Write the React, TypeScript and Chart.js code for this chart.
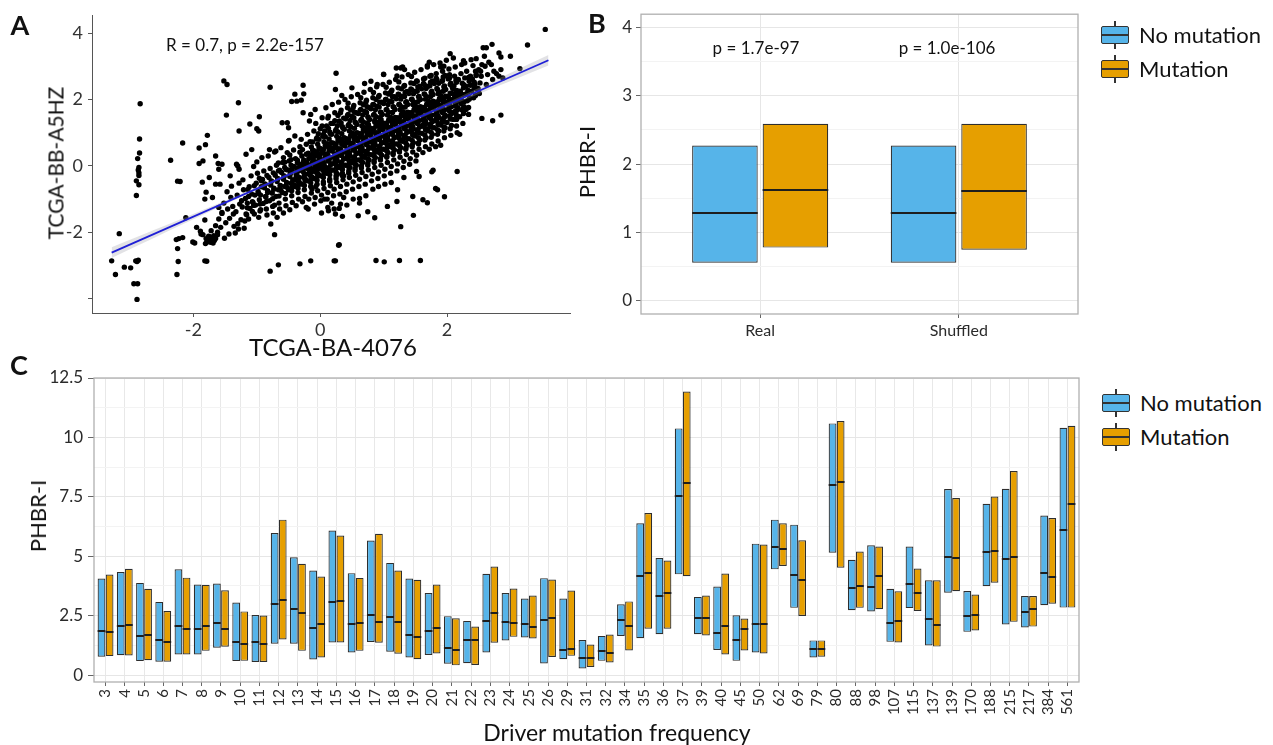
import React, { useEffect, useRef } from 'react';
import { Chart, registerables } from 'chart.js';
Chart.register(...registerables);

const FONT = 'Lato, "Open Sans", sans-serif';
const BLUE = '#56B4E9';
const ORANGE = '#E69F00';
const EDGE = '#2e2e2e';
const TICK_TEXT = '#2a2a2a';

// ---------------- Panel A data ----------------
const scatterOutliers: [number, number][] = [
  [-2.84, 1.87], [-2.85, 0.81], [-2.85, 0.39], [-2.88, 0.22], [-2.86, -0.05], [-2.87, -0.12], [-2.86, -0.21], [-2.86, -0.29], [-2.9, -0.45], [-2.86, -0.57], [-2.9, -0.89],
  [-2.91, -2.86], [-2.87, -2.84], [-2.89, -2.88], [-2.94, -3.55], [-2.88, -3.55], [-2.89, -4.02],
  [-3.29, -2.86], [-3.23, -3.27], [-3.17, -2.04], [-3.09, -3.05], [-2.99, -3.07],
  [-2.36, 0.17], [-2.17, 0.69], [-2.25, -0.46], [-2.21, -0.47], [-2.27, -2.22], [-2.23, -2.19], [-2.17, -2.16], [-2.25, -2.49], [-2.26, -3.27], [-2.24, -2.88], [-2.01, -2.29], [-2.12, -1.56],
  [-1.91, 0.54], [-1.81, 0.64], [-1.78, 0.92], [-1.91, 0.07], [-1.85, 0.15], [-1.86, -0.49], [-1.8, -0.79], [-1.82, -1.0], [-1.82, -1.63], [-1.89, -1.97], [-1.85, -2.07], [-1.8, -2.19],
  [-1.75, -2.13], [-1.7, -2.19], [-1.65, -2.19], [-1.62, -2.07], [-1.82, -2.86], [-1.69, -2.32], [-1.81, -2.34], [-1.74, -2.2], [-1.68, -2.1],
  [-1.95, -1.85], [-1.88, -2.05], [-1.79, -2.3], [-1.76, -2.12], [-1.73, -2.3], [-1.67, -2.25], [-1.72, -1.95], [-1.65, -1.8], [-1.6, -1.6], [-1.57, -1.85], [-1.62, -2.0],
  [-1.55, -1.4], [-1.6, -1.25], [-1.7, -0.95], [-1.65, -0.55], [-1.75, -0.35], [-1.6, -0.1], [-1.55, 0.05], [-1.65, 0.3], [-1.79, -2.87], [-1.98, -2.32],
  [-1.52, 2.56], [-1.47, 2.45], [-0.79, 2.37], [-0.27, 2.43], [-1.29, 1.9], [-1.48, 1.53], [-1.28, 1.05], [-0.96, 1.48], [-1.11, 1.26], [-1.0, 1.12], [-0.97, 1.05],
  [-0.45, 1.94], [-0.4, 2.16], [-0.52, 1.3], [-0.5, 1.15], [-0.49, 0.77], [-1.08, 0.49], [-0.8, 0.49], [-0.7, 0.45], [-1.61, 0.07], [-1.3, 0.0], [-1.28, -0.1],
  [-0.26, 2.17], [-0.3, 1.98], [-0.08, 1.7], [-0.15, 1.55], [-0.72, -2.07], [-0.66, -2.98], [-0.79, -3.17], [-0.32, -2.95], [-0.15, -2.86], [0.24, -2.86], [0.3, -2.37],
  [3.55, 4.11], [3.27, 3.64], [3.15, 2.93], [3.0, 3.3], [2.82, 3.4], [2.85, 3.28], [2.71, 3.66], [2.57, 3.56], [2.62, 3.56], [2.59, 3.3], [2.46, 3.23], [2.26, 3.17],
  [2.05, 3.38], [1.9, 2.98], [1.95, 3.0], [1.69, 3.02], [1.27, 2.95], [1.33, 2.9], [1.0, 2.76], [1.21, 2.71], [0.25, 2.79], [2.85, 1.53], [2.72, 1.36], [2.55, 1.43],
  [2.3, 1.7], [2.15, 1.4], [2.16, -0.17], [1.78, -0.13], [1.52, -0.17], [1.96, -0.93], [1.85, -0.72], [1.69, -1.11], [1.47, -1.49], [1.27, -1.83],
  [1.58, -2.85], [1.25, -2.85], [1.01, -2.89], [0.88, -2.85], [0.29, -2.39], [0.22, -2.86],
  [1.21, -1.07], [1.06, -1.22], [0.62, -1.12], [0.75, -1.38], [0.86, -1.56], [0.6, -1.5], [0.07, -1.0], [0.13, -1.35], [0.18, -1.12], [0.24, -1.45], [0.3, -1.28], [0.35, -1.52], [0.37, -0.95],
];
const scatterCloudA: [number, number][] = [
  [-1.52, -1.12], [-1.47, -0.78], [-1.55, -1.43], [-1.49, -1.71], [-1.44, -2.05], [-1.58, -0.55], [-1.51, -2.18], [-1.46, -1.3],
  [-1.41, -0.95], [-1.38, -1.22], [-1.43, -1.58], [-1.36, -1.82], [-1.4, -0.61], [-1.34, -2.02], [-1.42, -0.3], [-1.37, -1.45],
  [-1.31, -0.88], [-1.27, -1.15], [-1.33, -1.38], [-1.25, -1.62], [-1.29, -1.9], [-1.28, -0.52], [-1.32, 0.05], [-1.24, -1.05], [-1.3, -1.74],
  [-1.21, -0.72], [-1.18, -0.98], [-1.23, -1.24], [-1.16, -1.47], [-1.19, -1.66], [-1.22, -0.42], [-1.15, -1.12], [-1.17, 0.35], [-1.2, -1.88],
  [-1.12, -0.63], [-1.08, -0.85], [-1.06, -1.1], [-1.11, -1.28], [-1.04, -1.45], [-1.09, -0.3], [-1.05, -0.02], [-1.13, -1.6], [-1.07, -1.08],
  [-1.01, -0.52], [-0.98, -0.77], [-0.96, -1.02], [-1.02, -1.18], [-0.95, -1.36], [-0.99, -0.22], [-0.94, -0.88], [-1.0, 0.12], [-0.97, -1.55], [-0.93, -0.45],
  [-0.91, -0.41], [-0.88, -0.66], [-0.86, -0.92], [-0.9, -1.13], [-0.85, -1.3], [-0.89, -0.15], [-0.87, -0.55], [-0.84, -1.48], [-0.92, 0.25], [-0.83, -0.8],
  [-0.81, -0.35], [-0.78, -0.58], [-0.76, -0.82], [-0.8, -1.05], [-0.75, -1.22], [-0.79, -0.08], [-0.77, -0.45], [-0.74, -1.42], [-0.82, 0.3], [-0.73, -0.7], [-0.78, -1.75],
  [-0.71, -0.28], [-0.68, -0.47], [-0.66, -0.72], [-0.7, -0.92], [-0.65, -1.12], [-0.69, 0.02], [-0.67, -0.38], [-0.64, -1.3], [-0.72, 0.42], [-0.63, -0.6], [-0.66, -0.15], [-0.68, -1.55],
  [-0.61, -0.2], [-0.58, -0.4], [-0.56, -0.62], [-0.6, -0.8], [-0.55, -1.0], [-0.59, 0.1], [-0.57, -0.3], [-0.54, -1.2], [-0.62, 0.55], [-0.53, -0.5], [-0.56, -0.05], [-0.58, -1.42], [-0.6, 1.3],
  [-0.51, -0.12], [-0.48, -0.32], [-0.46, -0.52], [-0.5, -0.72], [-0.45, -0.9], [-0.49, 0.15], [-0.47, -0.22], [-0.44, -1.1], [-0.52, 0.4], [-0.43, -0.42], [-0.46, 0.02], [-0.48, -1.32], [-0.5, 0.75], [-0.44, -0.62],
  [-0.41, -0.02], [-0.38, -0.25], [-0.36, -0.45], [-0.4, -0.62], [-0.35, -0.8], [-0.39, 0.22], [-0.37, -0.12], [-0.34, -1.0], [-0.42, 0.48], [-0.33, -0.35], [-0.36, 0.1], [-0.38, -1.2], [-0.4, 0.9], [-0.34, -0.55], [-0.37, 1.95],
  [-0.31, 0.05], [-0.28, -0.15], [-0.26, -0.35], [-0.3, -0.55], [-0.25, -0.72], [-0.29, 0.3], [-0.27, -0.05], [-0.24, -0.92], [-0.32, 0.58], [-0.23, -0.25], [-0.26, 0.18], [-0.28, -1.08], [-0.3, 0.8], [-0.24, -0.45], [-0.27, 1.6], [-0.22, -1.25],
  [-0.21, 0.12], [-0.18, -0.08], [-0.16, -0.28], [-0.2, -0.45], [-0.15, -0.62], [-0.19, 0.38], [-0.17, 0.02], [-0.14, -0.82], [-0.22, 0.65], [-0.13, -0.18], [-0.16, 0.25], [-0.18, -1.0], [-0.2, 0.95], [-0.14, -0.38], [-0.17, 1.35], [-0.12, 0.48], [-0.19, -1.3],
  [-0.11, 0.2], [-0.08, 0.0], [-0.06, -0.2], [-0.1, -0.38], [-0.05, -0.55], [-0.09, 0.45], [-0.07, 0.1], [-0.04, -0.75], [-0.12, 0.72], [-0.03, -0.1], [-0.06, 0.32], [-0.08, -0.95], [-0.1, 1.05], [-0.04, -0.3], [-0.07, 1.28], [-0.02, 0.55], [-0.09, -1.15], [-0.05, 0.85],
  [-0.01, 0.28], [0.02, 0.08], [0.04, -0.12], [0.0, -0.3], [0.05, -0.48], [0.01, 0.52], [0.03, 0.18], [0.06, -0.68], [-0.02, 0.8], [0.07, -0.02], [0.04, 0.4], [0.02, -0.88], [0.0, 1.12], [0.06, -0.22], [0.03, 1.45], [0.08, 0.62], [0.01, -1.05], [0.05, 0.95], [0.02, -1.42],
  [0.09, 0.36], [0.12, 0.15], [0.14, -0.05], [0.1, -0.22], [0.15, -0.4], [0.11, 0.6], [0.13, 0.26], [0.16, -0.6], [0.08, 0.88], [0.17, 0.05], [0.14, 0.48], [0.12, -0.8], [0.1, 1.2], [0.16, -0.15], [0.13, 1.5], [0.18, 0.7], [0.11, -1.0], [0.15, 1.02], [0.12, -1.25], [0.09, 1.75],
  [0.19, 0.45], [0.22, 0.25], [0.24, 0.05], [0.2, -0.12], [0.25, -0.3], [0.21, 0.68], [0.23, 0.35], [0.26, -0.5], [0.18, 0.95], [0.27, 0.15], [0.24, 0.58], [0.22, -0.7], [0.2, 1.28], [0.26, -0.05], [0.23, 1.6], [0.28, 0.78], [0.21, -0.9], [0.25, 1.1], [0.22, -1.3], [0.19, 1.85], [0.24, 2.3], [0.27, -0.25],
  [0.29, 0.52], [0.32, 0.32], [0.34, 0.12], [0.3, -0.05], [0.35, -0.22], [0.31, 0.75], [0.33, 0.42], [0.36, -0.42], [0.28, 1.02], [0.37, 0.22], [0.34, 0.65], [0.32, -0.62], [0.3, 1.35], [0.36, 0.02], [0.33, 1.68], [0.38, 0.85], [0.31, -0.85], [0.35, 1.18], [0.32, -1.15], [0.29, 1.92], [0.37, -0.3], [0.34, 2.12],
  [0.39, 0.6], [0.42, 0.4], [0.44, 0.2], [0.4, 0.02], [0.45, -0.15], [0.41, 0.82], [0.43, 0.5], [0.46, -0.35], [0.38, 1.1], [0.47, 0.3], [0.44, 0.72], [0.42, -0.55], [0.4, 1.42], [0.46, 0.1], [0.43, 1.75], [0.48, 0.92], [0.41, -0.78], [0.45, 1.25], [0.42, -1.18], [0.39, 2.0], [0.47, -0.05], [0.44, 1.55],
  [0.49, 0.68], [0.52, 0.48], [0.54, 0.28], [0.5, 0.1], [0.55, -0.08], [0.51, 0.9], [0.53, 0.58], [0.56, -0.28], [0.48, 1.18], [0.57, 0.38], [0.54, 0.8], [0.52, -0.48], [0.5, 1.5], [0.56, 0.18], [0.53, 1.82], [0.58, 1.0], [0.51, -0.7], [0.55, 1.32], [0.52, -1.0], [0.49, 2.08], [0.57, 0.02], [0.54, 1.62], [0.5, 2.35],
  [0.59, 0.76], [0.62, 0.56], [0.64, 0.36], [0.6, 0.18], [0.65, 0.0], [0.61, 0.98], [0.63, 0.66], [0.66, -0.2], [0.58, 1.25], [0.67, 0.46], [0.64, 0.88], [0.62, -0.4], [0.6, 1.58], [0.66, 0.26], [0.63, 1.9], [0.68, 1.08], [0.61, -0.62], [0.65, 1.4], [0.62, -0.98], [0.59, 2.15], [0.67, 0.1], [0.64, 1.7], [0.66, 1.2],
  [0.69, 0.85], [0.72, 0.65], [0.74, 0.45], [0.7, 0.26], [0.75, 0.08], [0.71, 1.05], [0.73, 0.75], [0.76, -0.12], [0.68, 1.32], [0.77, 0.55], [0.74, 0.95], [0.72, -0.32], [0.7, 1.65], [0.76, 0.35], [0.73, 1.98], [0.78, 1.15], [0.71, -0.55], [0.75, 1.48], [0.72, -0.9], [0.69, 2.22], [0.77, 0.18], [0.74, 1.78], [0.7, 2.48], [0.76, 1.25],
  [0.79, 0.92], [0.82, 0.72], [0.84, 0.52], [0.8, 0.34], [0.85, 0.15], [0.81, 1.12], [0.83, 0.82], [0.86, -0.05], [0.78, 1.4], [0.87, 0.62], [0.84, 1.02], [0.82, -0.25], [0.8, 1.72], [0.86, 0.42], [0.83, 2.05], [0.88, 1.22], [0.81, -0.45], [0.85, 1.55], [0.79, 2.3], [0.87, 0.25], [0.84, 1.85], [0.8, 2.55], [0.86, 1.32], [0.83, -0.7],
  [0.89, 1.0], [0.92, 0.8], [0.94, 0.6], [0.9, 0.42], [0.95, 0.22], [0.91, 1.2], [0.93, 0.9], [0.96, 0.02], [0.88, 1.48], [0.97, 0.7], [0.94, 1.1], [0.92, -0.18], [0.9, 1.8], [0.96, 0.5], [0.93, 2.12], [0.98, 1.3], [0.91, -0.38], [0.95, 1.62], [0.92, -0.62], [0.89, 2.38], [0.97, 0.32], [0.94, 1.92], [0.9, 2.45], [0.96, 1.4],
  [0.99, 1.08], [1.02, 0.88], [1.04, 0.68], [1.0, 0.5], [1.05, 0.3], [1.01, 1.28], [1.03, 0.98], [1.06, 0.1], [0.98, 1.55], [1.07, 0.78], [1.04, 1.18], [1.02, -0.1], [1.0, 1.88], [1.06, 0.58], [1.03, 2.2], [1.08, 1.38], [1.01, -0.3], [1.05, 1.7], [1.02, -0.55], [0.99, 2.45], [1.07, 0.4], [1.04, 2.0], [1.0, 2.75],
  [1.09, 1.16], [1.12, 0.96], [1.14, 0.76], [1.1, 0.58], [1.15, 0.38], [1.11, 1.36], [1.13, 1.06], [1.16, 0.18], [1.08, 1.62], [1.17, 0.86], [1.14, 1.26], [1.12, -0.02], [1.1, 1.95], [1.16, 0.66], [1.13, 2.28], [1.18, 1.46], [1.11, -0.22], [1.15, 1.78], [1.12, -0.5], [1.09, 2.52], [1.17, 0.48], [1.14, 2.08], [1.1, 2.2],
  [1.19, 1.25], [1.22, 1.05], [1.24, 0.85], [1.2, 0.66], [1.25, 0.46], [1.21, 1.45], [1.23, 1.15], [1.26, 0.26], [1.18, 1.7], [1.27, 0.95], [1.24, 1.35], [1.22, 0.06], [1.2, 2.02], [1.26, 0.75], [1.23, 2.35], [1.28, 1.55], [1.21, -0.15], [1.25, 1.85], [1.22, -0.72], [1.19, 2.6], [1.27, 0.55], [1.24, 2.15], [1.2, 2.95],
  [1.29, 1.33], [1.32, 1.13], [1.34, 0.93], [1.3, 0.74], [1.35, 0.54], [1.31, 1.52], [1.33, 1.23], [1.36, 0.34], [1.28, 1.78], [1.37, 1.03], [1.34, 1.43], [1.32, 0.14], [1.3, 2.1], [1.36, 0.83], [1.33, 2.42], [1.38, 1.62], [1.31, -0.05], [1.35, 1.92], [1.29, 2.68], [1.37, 0.62], [1.34, 2.22], [1.32, -0.35], [1.3, 2.98],
  [1.39, 1.41], [1.42, 1.21], [1.44, 1.01], [1.4, 0.82], [1.45, 0.62], [1.41, 1.6], [1.43, 1.31], [1.46, 0.42], [1.38, 1.85], [1.47, 1.11], [1.44, 1.51], [1.42, 0.22], [1.4, 2.18], [1.46, 0.92], [1.43, 2.5], [1.48, 1.7], [1.41, 0.05], [1.45, 2.0], [1.39, 2.75], [1.47, 0.7], [1.44, 2.3], [1.46, -0.92],
  [1.49, 1.5], [1.52, 1.3], [1.54, 1.1], [1.5, 0.9], [1.55, 0.7], [1.51, 1.68], [1.53, 1.4], [1.56, 0.5], [1.48, 1.92], [1.57, 1.2], [1.54, 1.6], [1.52, 0.32], [1.5, 2.25], [1.56, 1.0], [1.53, 2.55], [1.58, 1.78], [1.55, 2.08], [1.49, 2.82], [1.57, 0.78], [1.54, 2.38], [1.51, 0.15], [1.56, -0.32],
  [1.59, 1.58], [1.62, 1.38], [1.64, 1.18], [1.6, 0.98], [1.65, 0.78], [1.61, 1.76], [1.63, 1.48], [1.66, 0.58], [1.58, 2.0], [1.67, 1.28], [1.64, 1.68], [1.62, 0.4], [1.6, 2.32], [1.66, 1.08], [1.63, 2.62], [1.68, 1.86], [1.65, 2.15], [1.59, 2.9], [1.67, 0.85], [1.64, 2.45], [1.62, -1.02],
  [1.69, 1.66], [1.72, 1.46], [1.74, 1.26], [1.7, 1.06], [1.75, 0.86], [1.71, 1.85], [1.73, 1.56], [1.76, 0.66], [1.68, 2.08], [1.77, 1.36], [1.74, 1.76], [1.72, 0.5], [1.7, 2.4], [1.76, 1.16], [1.73, 2.7], [1.78, 1.95], [1.75, 2.22], [1.69, 2.98], [1.77, 0.95], [1.74, 2.52], [1.76, -0.18], [1.72, 3.12],
  [1.79, 1.75], [1.82, 1.55], [1.84, 1.35], [1.8, 1.15], [1.85, 0.95], [1.81, 1.92], [1.83, 1.65], [1.86, 0.75], [1.78, 2.15], [1.87, 1.45], [1.84, 1.85], [1.82, 0.58], [1.8, 2.48], [1.86, 1.25], [1.83, 2.78], [1.88, 2.02], [1.85, 2.3], [1.79, 3.05], [1.87, 1.05], [1.84, 2.6], [1.82, -0.68],
  [1.89, 1.83], [1.92, 1.63], [1.94, 1.43], [1.9, 1.23], [1.95, 1.05], [1.91, 2.0], [1.93, 1.73], [1.96, 0.85], [1.88, 2.22], [1.97, 1.53], [1.94, 1.93], [1.92, 2.55], [1.96, 1.33], [1.93, 2.85], [1.98, 2.1], [1.95, 2.38], [1.89, 3.1], [1.97, 1.15], [1.94, 2.68], [1.9, 0.62],
  [1.99, 1.91], [2.02, 1.71], [2.04, 1.51], [2.0, 1.31], [2.05, 1.12], [2.01, 2.08], [2.03, 1.81], [2.06, 0.92], [1.98, 2.3], [2.07, 1.61], [2.04, 2.0], [2.02, 2.62], [2.06, 1.41], [2.03, 2.92], [2.08, 2.18], [2.05, 2.45], [1.99, 3.18], [2.07, 1.22], [2.04, 2.75],
  [2.09, 2.0], [2.12, 1.8], [2.14, 1.6], [2.1, 1.4], [2.15, 1.2], [2.11, 2.16], [2.13, 1.9], [2.16, 1.0], [2.08, 2.38], [2.17, 1.7], [2.14, 2.08], [2.12, 2.7], [2.16, 1.5], [2.13, 2.98], [2.18, 2.25], [2.15, 2.52], [2.1, 3.25],
  [2.19, 2.08], [2.22, 1.88], [2.24, 1.68], [2.2, 1.48], [2.25, 1.28], [2.21, 2.25], [2.23, 1.98], [2.26, 2.45], [2.18, 2.6], [2.27, 1.78], [2.24, 2.15], [2.22, 2.78], [2.26, 1.58], [2.23, 3.05], [2.2, 0.95],
  [2.29, 2.16], [2.32, 1.96], [2.34, 1.76], [2.3, 2.4], [2.35, 2.55], [2.31, 2.85], [2.33, 2.28], [2.36, 2.05], [2.28, 3.1], [2.37, 2.7], [2.34, 1.55],
  [2.39, 2.25], [2.42, 2.05], [2.44, 2.45], [2.4, 2.62], [2.45, 2.85], [2.41, 3.02], [2.43, 2.35], [2.46, 2.72], [2.38, 3.2],
  [2.49, 2.33], [2.52, 2.5], [2.54, 2.7], [2.5, 2.9], [2.55, 3.05], [2.51, 2.18], [2.53, 2.85],
  [2.62, 2.45], [2.64, 2.75], [2.6, 3.0], [2.66, 3.12], [2.72, 2.6], [2.74, 2.85], [2.7, 3.05], [2.78, 2.78], [2.82, 2.7], [2.88, 2.65], [2.85, 2.9],
];
const scatterCloudB: [number, number][] = [
  [-1.15, -1.26], [-1.13, -0.92], [-1.17, -1.45], [-1.14, -0.71], [-1.05, -1.19], [-1.03, -0.88], [-1.07, -1.37], [-1.04, -0.6],
  [-0.95, -1.15], [-0.97, -0.83], [-0.93, -0.63], [-0.96, -0.37], [-0.94, -1.32], [-0.85, -1.07], [-0.83, -0.75], [-0.87, -0.55], [-0.84, -0.29], [-0.86, -0.93],
  [-0.75, -0.99], [-0.73, -0.67], [-0.77, -0.47], [-0.74, -0.21], [-0.76, -0.81], [-0.72, -1.18], [-0.65, -0.91], [-0.63, -0.59], [-0.67, -0.39], [-0.64, -0.13], [-0.66, 0.09], [-0.62, -0.73],
  [-0.55, -0.83], [-0.53, -0.51], [-0.57, -0.31], [-0.54, -0.11], [-0.56, 0.11], [-0.52, -0.65], [-0.58, 0.25],
  [-0.45, -0.75], [-0.43, -0.43], [-0.47, -0.23], [-0.44, -0.03], [-0.46, 0.19], [-0.42, -0.57], [-0.48, 0.33], [-0.45, -0.13],
  [-0.35, -0.67], [-0.33, -0.49], [-0.37, -0.25], [-0.34, -0.05], [-0.36, 0.17], [-0.32, 0.41], [-0.38, -0.35], [-0.35, -0.15],
  [-0.25, -0.59], [-0.23, -0.41], [-0.27, -0.17], [-0.24, 0.03], [-0.26, 0.14], [-0.22, 0.35], [-0.28, 0.49], [-0.25, -0.27], [-0.21, -0.07],
  [-0.15, -0.51], [-0.13, -0.33], [-0.17, -0.19], [-0.14, -0.09], [-0.16, 0.01], [-0.12, 0.11], [-0.18, 0.22], [-0.15, 0.33], [-0.11, 0.43], [-0.14, 0.57], [-0.16, 0.73], [-0.13, -0.7],
  [-0.05, -0.43], [-0.03, -0.25], [-0.07, -0.11], [-0.04, -0.01], [-0.06, 0.09], [-0.02, 0.19], [-0.08, 0.3], [-0.05, 0.41], [-0.01, 0.51], [-0.04, 0.65], [-0.06, 0.81], [-0.03, 0.97], [-0.07, -0.62],
  [0.05, -0.35], [0.07, -0.17], [0.03, -0.03], [0.06, 0.07], [0.04, 0.17], [0.08, 0.27], [0.02, 0.38], [0.05, 0.49], [0.09, 0.59], [0.06, 0.73], [0.04, 0.89], [0.07, 1.05], [0.03, 1.2], [0.05, -0.54],
  [0.15, -0.27], [0.13, -0.09], [0.17, 0.05], [0.14, 0.15], [0.16, 0.25], [0.12, 0.35], [0.18, 0.46], [0.15, 0.57], [0.11, 0.67], [0.14, 0.81], [0.16, 0.97], [0.13, 1.13], [0.17, 1.28], [0.15, -0.46], [0.12, 1.44],
  [0.25, -0.19], [0.27, -0.01], [0.23, 0.13], [0.26, 0.23], [0.24, 0.33], [0.28, 0.43], [0.22, 0.54], [0.25, 0.65], [0.29, 0.75], [0.26, 0.89], [0.24, 1.05], [0.27, 1.21], [0.23, 1.36], [0.25, -0.38], [0.28, 1.52],
  [0.35, -0.11], [0.33, 0.07], [0.37, 0.21], [0.34, 0.31], [0.36, 0.41], [0.32, 0.51], [0.38, 0.62], [0.35, 0.73], [0.31, 0.83], [0.34, 0.97], [0.36, 1.13], [0.33, 1.29], [0.37, 1.44], [0.35, -0.3], [0.32, 1.6],
  [0.45, -0.03], [0.47, 0.15], [0.43, 0.29], [0.46, 0.39], [0.44, 0.49], [0.48, 0.59], [0.42, 0.7], [0.45, 0.81], [0.49, 0.91], [0.46, 1.05], [0.44, 1.21], [0.47, 1.37], [0.43, 1.52], [0.45, -0.22], [0.48, 1.68], [0.44, 1.89],
  [0.55, 0.05], [0.53, 0.23], [0.57, 0.37], [0.54, 0.47], [0.56, 0.57], [0.52, 0.67], [0.58, 0.78], [0.55, 0.89], [0.51, 0.99], [0.54, 1.13], [0.56, 1.29], [0.53, 1.45], [0.57, 1.6], [0.55, -0.14], [0.52, 1.76],
  [0.65, 0.13], [0.67, 0.31], [0.63, 0.45], [0.66, 0.55], [0.64, 0.65], [0.68, 0.75], [0.62, 0.86], [0.65, 0.97], [0.69, 1.07], [0.66, 1.21], [0.64, 1.37], [0.67, 1.53], [0.63, 1.68], [0.65, -0.06], [0.68, 1.84], [0.64, 2.05],
  [0.75, 0.21], [0.73, 0.39], [0.77, 0.53], [0.74, 0.63], [0.76, 0.73], [0.72, 0.83], [0.78, 0.94], [0.75, 1.05], [0.71, 1.15], [0.74, 1.29], [0.76, 1.45], [0.73, 1.61], [0.77, 1.76], [0.75, 0.02], [0.72, 1.92],
  [0.85, 0.29], [0.87, 0.47], [0.83, 0.61], [0.86, 0.71], [0.84, 0.81], [0.88, 0.91], [0.82, 1.02], [0.85, 1.13], [0.89, 1.23], [0.86, 1.37], [0.84, 1.53], [0.87, 1.69], [0.83, 1.84], [0.85, 0.1], [0.88, 2.0], [0.84, 2.21],
  [0.95, 0.37], [0.93, 0.55], [0.97, 0.69], [0.94, 0.79], [0.96, 0.89], [0.92, 0.99], [0.98, 1.1], [0.95, 1.21], [0.91, 1.31], [0.94, 1.45], [0.96, 1.61], [0.93, 1.77], [0.97, 1.92], [0.95, 0.18], [0.92, 2.08],
  [1.05, 0.45], [1.07, 0.63], [1.03, 0.77], [1.06, 0.87], [1.04, 0.97], [1.08, 1.07], [1.02, 1.18], [1.05, 1.29], [1.09, 1.39], [1.06, 1.53], [1.04, 1.69], [1.07, 1.85], [1.03, 2.0], [1.05, 0.26], [1.08, 2.16], [1.04, 2.37],
  [1.15, 0.53], [1.13, 0.71], [1.17, 0.85], [1.14, 0.95], [1.16, 1.05], [1.12, 1.15], [1.18, 1.26], [1.15, 1.37], [1.11, 1.47], [1.14, 1.61], [1.16, 1.77], [1.13, 1.93], [1.17, 2.08], [1.15, 0.34], [1.12, 2.24],
  [1.25, 0.61], [1.27, 0.79], [1.23, 0.93], [1.26, 1.03], [1.24, 1.13], [1.28, 1.23], [1.22, 1.34], [1.25, 1.45], [1.29, 1.55], [1.26, 1.69], [1.24, 1.85], [1.27, 2.01], [1.23, 2.16], [1.25, 0.42], [1.28, 2.32], [1.24, 2.53],
  [1.35, 0.69], [1.33, 0.87], [1.37, 1.01], [1.34, 1.11], [1.36, 1.21], [1.32, 1.31], [1.38, 1.42], [1.35, 1.53], [1.31, 1.63], [1.34, 1.77], [1.36, 1.93], [1.33, 2.09], [1.37, 2.24], [1.35, 0.5], [1.32, 2.4],
  [1.45, 0.77], [1.47, 0.95], [1.43, 1.09], [1.46, 1.19], [1.44, 1.29], [1.48, 1.39], [1.42, 1.5], [1.45, 1.61], [1.49, 1.71], [1.46, 1.85], [1.44, 2.01], [1.47, 2.17], [1.43, 2.32], [1.45, 0.58], [1.48, 2.48], [1.44, 2.69],
  [1.55, 0.85], [1.53, 1.03], [1.57, 1.17], [1.54, 1.27], [1.56, 1.37], [1.52, 1.47], [1.58, 1.58], [1.55, 1.69], [1.51, 1.79], [1.54, 1.93], [1.56, 2.09], [1.53, 2.25], [1.57, 2.4], [1.55, 0.66], [1.52, 2.56],
  [1.65, 0.93], [1.67, 1.11], [1.63, 1.25], [1.66, 1.35], [1.64, 1.45], [1.68, 1.55], [1.62, 1.66], [1.65, 1.77], [1.69, 1.87], [1.66, 2.01], [1.64, 2.17], [1.67, 2.33], [1.63, 2.48], [1.65, 2.64],
  [1.75, 1.01], [1.73, 1.19], [1.77, 1.33], [1.74, 1.43], [1.76, 1.53], [1.72, 1.63], [1.78, 1.74], [1.75, 1.85], [1.71, 1.95], [1.74, 2.09], [1.76, 2.25], [1.73, 2.41], [1.77, 2.56], [1.75, 2.72],
  [1.85, 1.09], [1.87, 1.27], [1.83, 1.41], [1.86, 1.51], [1.84, 1.61], [1.88, 1.71], [1.82, 1.82], [1.85, 1.93], [1.89, 2.03], [1.86, 2.17], [1.84, 2.33], [1.87, 2.49], [1.83, 2.64],
  [1.95, 1.17], [1.93, 1.35], [1.97, 1.49], [1.94, 1.59], [1.96, 1.69], [1.92, 1.79], [1.98, 1.9], [1.95, 2.01], [1.91, 2.11], [1.94, 2.25], [1.96, 2.41], [1.93, 2.57], [1.97, 2.72],
  [2.05, 1.43], [2.07, 1.57], [2.03, 1.67], [2.06, 1.77], [2.04, 1.87], [2.08, 1.98], [2.02, 2.09], [2.05, 2.19], [2.09, 2.33], [2.06, 2.49], [2.04, 2.65],
  [2.15, 1.51], [2.13, 1.65], [2.17, 1.75], [2.14, 1.85], [2.16, 1.95], [2.12, 2.06], [2.18, 2.17], [2.15, 2.27], [2.11, 2.41], [2.14, 2.57],
  [2.25, 1.73], [2.27, 1.93], [2.23, 2.14], [2.26, 2.35], [2.24, 2.49], [2.28, 2.65],
  [2.35, 2.01], [2.33, 2.22], [2.37, 2.43], [2.34, 2.66], [2.45, 2.12], [2.47, 2.31], [2.43, 2.52], [2.46, 2.75],
];
const fitX = [-3.29, 3.6];
const fitY = [-2.61, 3.18];
const bandX = [-3.29, -1.5, 0, 1.5, 3.6];
const bandHi = [-2.45, -1.05, 0.2, 1.46, 3.34];
const bandLo = [-2.77, -1.16, 0.11, 1.37, 3.02];
const aXTicks = [-2, 0, 2];
const aYTicks = [-4, -2, 0, 2, 4];

// ---------------- Panel B data ----------------
const bCategories = ['Real', 'Shuffled'];
const bNoMutLow = [0.56, 0.56];
const bNoMutMed = [1.29, 1.29];
const bNoMutHigh = [2.27, 2.27];
const bMutLow = [0.78, 0.75];
const bMutMed = [1.62, 1.61];
const bMutHigh = [2.59, 2.59];
const bPValues = ['p = 1.7e-97', 'p = 1.0e-106'];
const bYTicks = [0, 0.5, 1, 1.5, 2, 2.5, 3, 3.5, 4];

// ---------------- Panel C data ----------------
const cCategories = ['3', '4', '5', '6', '7', '8', '9', '10', '11', '12', '13', '14', '15', '16', '17', '18', '19', '20', '21', '22', '23', '24', '25', '26', '29', '31', '32', '34', '35', '36', '37', '39', '40', '45', '50', '62', '69', '79', '80', '88', '98', '107', '115', '137', '139', '170', '188', '215', '217', '384', '561'];
const cNoMutLow = [0.77, 0.84, 0.59, 0.56, 0.87, 0.87, 1.15, 0.59, 0.55, 1.32, 1.32, 0.66, 1.37, 0.95, 1.39, 0.98, 0.74, 0.85, 0.48, 0.50, 0.95, 1.46, 1.58, 0.49, 0.67, 0.28, 0.60, 1.65, 1.55, 1.72, 4.24, 1.72, 1.06, 0.60, 0.95, 4.45, 2.83, 0.74, 5.15, 2.73, 2.68, 1.40, 2.82, 1.25, 3.47, 1.82, 3.74, 2.13, 2.00, 2.94, 2.84];
const cNoMutMed = [1.86, 2.06, 1.65, 1.46, 2.07, 1.92, 2.20, 1.40, 1.39, 2.98, 2.80, 1.99, 3.08, 2.13, 2.51, 2.46, 1.67, 1.85, 1.12, 1.48, 2.28, 2.25, 2.17, 2.32, 1.06, 0.73, 1.01, 2.30, 4.19, 3.33, 7.55, 2.39, 1.76, 1.47, 2.16, 5.38, 4.20, 1.09, 8.01, 3.67, 3.70, 2.20, 3.82, 2.38, 4.96, 2.49, 5.20, 4.89, 2.65, 4.29, 6.09];
const cNoMutHigh = [4.06, 4.34, 3.88, 3.08, 4.45, 3.81, 3.85, 3.05, 2.53, 5.98, 4.96, 4.40, 6.08, 4.29, 5.66, 4.72, 4.06, 3.45, 2.48, 2.28, 4.26, 3.45, 3.22, 4.08, 3.22, 1.48, 1.65, 2.98, 6.39, 4.93, 10.38, 3.29, 3.73, 2.52, 5.53, 6.54, 6.33, 1.46, 10.59, 4.85, 5.46, 3.63, 5.41, 3.99, 7.83, 3.54, 7.21, 7.84, 3.33, 6.71, 10.41];
const cMutLow = [0.80, 0.83, 0.63, 0.56, 0.87, 1.02, 1.19, 0.60, 0.55, 1.50, 1.02, 0.74, 1.37, 1.02, 1.36, 0.90, 0.67, 0.91, 0.41, 0.43, 1.36, 1.61, 1.54, 0.76, 0.81, 0.34, 0.53, 1.04, 1.95, 1.95, 4.16, 1.67, 0.87, 1.04, 0.91, 4.59, 2.49, 0.77, 4.52, 2.83, 2.77, 1.37, 2.70, 1.20, 3.53, 1.88, 3.89, 2.24, 2.04, 3.00, 2.84];
const cMutMed = [1.81, 2.10, 1.68, 1.39, 1.92, 2.07, 1.95, 1.30, 1.32, 3.15, 2.63, 2.13, 3.11, 2.18, 2.24, 2.25, 1.61, 1.97, 1.06, 1.48, 2.63, 2.21, 2.04, 2.39, 1.09, 0.70, 0.94, 2.07, 4.29, 3.47, 8.07, 2.39, 2.07, 1.92, 2.16, 5.32, 3.99, 1.09, 8.11, 3.75, 4.19, 2.28, 3.45, 2.11, 4.94, 2.51, 5.24, 4.96, 2.80, 4.13, 7.18];
const cMutHigh = [4.23, 4.47, 3.63, 2.70, 4.10, 3.80, 3.57, 2.68, 2.51, 6.54, 4.68, 4.15, 5.87, 4.09, 5.95, 4.40, 4.01, 3.81, 2.39, 2.04, 4.57, 3.64, 3.35, 4.02, 3.56, 1.29, 1.71, 3.10, 6.82, 4.82, 11.93, 3.35, 4.27, 2.38, 5.49, 6.39, 5.67, 1.46, 10.69, 5.20, 5.41, 3.53, 4.48, 3.99, 7.45, 3.39, 7.51, 8.59, 3.33, 6.61, 10.49];
const cYTicks = [0, 1.25, 2.5, 3.75, 5, 6.25, 7.5, 8.75, 10, 11.25, 12.5];

// ---------------- helpers ----------------
const framePlugin = {
  id: 'frame',
  afterDraw(chart: any) {
    const { ctx, chartArea } = chart;
    const { left, top, right, bottom } = chartArea;
    ctx.save();
    ctx.strokeStyle = '#b0b0b0';
    ctx.lineWidth = 1.3;
    ctx.strokeRect(left, top, right - left, bottom - top);
    ctx.restore();
  },
};

function medianPlugin(medA: number[], medB: number[]) {
  return {
    id: 'medians',
    afterDatasetsDraw(chart: any) {
      const { ctx } = chart;
      const yScale = chart.scales.y;
      ctx.save();
      ctx.strokeStyle = '#1e1e1e';
      ctx.lineWidth = 2;
      [medA, medB].forEach((meds, di) => {
        const meta = chart.getDatasetMeta(di);
        meta.data.forEach((bar: any, i: number) => {
          const { x, width } = bar.getProps(['x', 'width'], true);
          const y = Math.round(yScale.getPixelForValue(meds[i]));
          ctx.beginPath();
          ctx.moveTo(x - width / 2, y);
          ctx.lineTo(x + width / 2, y);
          ctx.stroke();
        });
      });
      ctx.restore();
    },
  };
}

const isMult = (v: number, step: number) => Math.abs(v / step - Math.round(v / step)) < 1e-6;

function ChartCanvas({ build, left, top, width, height }: { build: () => any; left: number; top: number; width: number; height: number }) {
  const ref = useRef<HTMLCanvasElement>(null);
  useEffect(() => {
    const chart = new Chart(ref.current as HTMLCanvasElement, build());
    return () => chart.destroy();
  }, []);
  return (
    <canvas ref={ref} width={width} height={height} style={{ position: 'absolute', left, top, width, height, display: 'block' }} />
  );
}

function Text({ x, y, size, children, rotate, bold }: { x: number; y: number; size: number; children: React.ReactNode; rotate?: boolean; bold?: boolean }) {
  return (
    <div
      style={{
        position: 'absolute', left: x, top: y, fontFamily: FONT, fontSize: size, lineHeight: 1,
        fontWeight: bold ? 700 : 400, color: '#111', whiteSpace: 'nowrap',
        transform: `translate(-50%, -50%)${rotate ? ' rotate(-90deg)' : ''}`,
      }}
    >
      {children}
    </div>
  );
}

function LegendIcon({ x, y, color }: { x: number; y: number; color: string }) {
  return (
    <div style={{ position: 'absolute', left: x, top: y, width: 28, height: 28 }}>
      <div style={{ position: 'absolute', left: 13, top: 0, width: 1.5, height: 28, background: '#333' }} />
      <div style={{ position: 'absolute', left: 0, top: 5, width: 28, height: 18, boxSizing: 'border-box', border: '1.5px solid #333', background: color, borderRadius: 2 }} />
      <div style={{ position: 'absolute', left: 0, top: 13, width: 28, height: 2, background: '#333' }} />
    </div>
  );
}

function Legend({ x, y }: { x: number; y: number }) {
  const textStyle: React.CSSProperties = { position: 'absolute', left: x + 38, transform: 'translateY(-50%)', fontFamily: FONT, fontSize: 22, lineHeight: 1, color: '#111', whiteSpace: 'nowrap' };
  return (
    <>
      <LegendIcon x={x} y={y} color={BLUE} />
      <LegendIcon x={x} y={y + 34} color={ORANGE} />
      <div style={{ ...textStyle, top: y + 14 }}>No mutation</div>
      <div style={{ ...textStyle, top: y + 48 }}>Mutation</div>
    </>
  );
}

function boxDatasets(n: number, lowA: number[], highA: number[], lowB: number[], highB: number[], catPct: number, barPct: number) {
  const idx = Array.from({ length: n }, (_, i) => i);
  const mk = (lo: number[], hi: number[]) => idx.map((i) => ({ x: i + 1, y: [lo[i], hi[i]] }));
  const common = { borderColor: EDGE, borderWidth: 1.2, borderSkipped: false as const, categoryPercentage: catPct, barPercentage: barPct };
  return [
    { label: 'No mutation', data: mk(lowA, highA), stack: 'no', backgroundColor: BLUE, ...common },
    { label: 'Mutation', data: mk(lowB, highB), stack: 'mut', backgroundColor: ORANGE, ...common },
  ];
}

const tickFont = (size: number) => ({ family: FONT, size });

function buildA() {
  const allPoints = [...scatterOutliers, ...scatterCloudA, ...scatterCloudB];
  return {
    type: 'scatter',
    data: {
      datasets: [
        {
          type: 'line', label: 'fit', data: fitX.map((x, i) => ({ x, y: fitY[i] })),
          borderColor: '#1f1fd6', borderWidth: 1.8, pointRadius: 0, fill: false, order: 0,
        },
        {
          type: 'line', label: 'bandHi', data: bandX.map((x, i) => ({ x, y: bandHi[i] })),
          borderWidth: 0, borderColor: 'rgba(0,0,0,0)', pointRadius: 0, fill: false, tension: 0.35, order: 1,
        },
        {
          type: 'line', label: 'bandLo', data: bandX.map((x, i) => ({ x, y: bandLo[i] })),
          borderWidth: 0, borderColor: 'rgba(0,0,0,0)', pointRadius: 0, fill: '-1', backgroundColor: 'rgba(160,160,170,0.3)', tension: 0.35, order: 1,
        },
        {
          label: 'samples', data: allPoints.map(([x, y]) => ({ x, y })),
          backgroundColor: '#000', borderWidth: 0, pointRadius: 2.7, order: 2,
        },
      ],
    },
    options: {
      animation: false, responsive: false,
      layout: { padding: { top: 10, right: 5, left: 0, bottom: 0 } },
      plugins: { legend: { display: false }, tooltip: { enabled: false } },
      scales: {
        x: {
          type: 'linear', min: -3.6, max: 3.94,
          afterBuildTicks: (s: any) => { s.ticks = aXTicks.map((v) => ({ value: v })); },
          afterFit: (s: any) => { s.height = 27; },
          grid: { drawOnChartArea: false, drawTicks: true, tickLength: 4, color: '#555' },
          border: { display: true, color: '#555', width: 1 },
          ticks: { font: tickFont(18), color: '#333', padding: 2, callback: (v: number) => String(v) },
        },
        y: {
          type: 'linear', min: -4.43, max: 4.52,
          afterBuildTicks: (s: any) => { s.ticks = aYTicks.map((v) => ({ value: v })); },
          afterFit: (s: any) => { s.width = 92; },
          grid: { drawOnChartArea: false, drawTicks: true, tickLength: 4, color: '#555' },
          border: { display: true, color: '#555', width: 1 },
          ticks: { font: tickFont(18), color: '#333', padding: 5, callback: (v: number) => (v === -4 ? '' : String(v)) },
        },
      },
    },
  };
}

function buildB() {
  return {
    type: 'bar',
    data: { datasets: boxDatasets(2, bNoMutLow, bNoMutHigh, bMutLow, bMutHigh, 0.71, 0.93) },
    options: {
      animation: false, responsive: false,
      layout: { padding: { top: 11, right: 12, left: 0, bottom: 0 } },
      plugins: { legend: { display: false }, tooltip: { enabled: false } },
      scales: {
        x: {
          type: 'linear', min: 0.4, max: 2.6, offset: false,
          afterBuildTicks: (s: any) => { s.ticks = bCategories.map((_, i) => ({ value: i + 1 })); },
          afterFit: (s: any) => { s.height = 31; },
          grid: { offset: false, color: '#e6e6e6', lineWidth: 1, tickColor: '#666', tickLength: 4 },
          border: { display: false },
          ticks: { font: tickFont(16), color: TICK_TEXT, padding: 3, autoSkip: false, maxRotation: 0, callback: (v: number) => bCategories[Math.round(v) - 1] },
        },
        y: {
          type: 'linear', min: -0.19, max: 4.19, stacked: false,
          afterBuildTicks: (s: any) => { s.ticks = bYTicks.map((v) => ({ value: v })); },
          afterFit: (s: any) => { s.width = 71; },
          grid: {
            color: (c: any) => (isMult(c.tick?.value ?? 0, 1) ? '#e6e6e6' : '#f3f3f3'),
            tickColor: (c: any) => (isMult(c.tick?.value ?? 0, 1) ? '#666' : 'rgba(0,0,0,0)'),
            tickLength: 5,
          },
          border: { display: false },
          ticks: { font: tickFont(17), color: TICK_TEXT, padding: 4, callback: (v: number) => (isMult(v, 1) ? String(v) : '') },
        },
      },
    },
    plugins: [framePlugin, medianPlugin(bNoMutMed, bMutMed)],
  };
}

function buildC() {
  const n = cCategories.length;
  return {
    type: 'bar',
    data: { datasets: boxDatasets(n, cNoMutLow, cNoMutHigh, cMutLow, cMutHigh, 0.84, 0.96) },
    options: {
      animation: false, responsive: false,
      layout: { padding: { top: 28, right: 11, left: 0, bottom: 0 } },
      plugins: { legend: { display: false }, tooltip: { enabled: false } },
      scales: {
        x: {
          type: 'linear', min: 0.4, max: n + 0.6, offset: false,
          afterBuildTicks: (s: any) => { s.ticks = cCategories.map((_, i) => ({ value: i + 1 })); },
          afterFit: (s: any) => { s.height = 63; },
          grid: { offset: false, color: '#e8e8e8', lineWidth: 1, tickColor: '#666', tickLength: 4 },
          border: { display: false },
          ticks: { font: tickFont(15), color: TICK_TEXT, padding: 3, autoSkip: false, minRotation: 90, maxRotation: 90, callback: (v: number) => cCategories[Math.round(v) - 1] },
        },
        y: {
          type: 'linear', min: -0.29, max: 12.5, stacked: false,
          afterBuildTicks: (s: any) => { s.ticks = cYTicks.map((v) => ({ value: v })); },
          afterFit: (s: any) => { s.width = 94; },
          grid: {
            color: (c: any) => (isMult(c.tick?.value ?? 0, 2.5) ? '#e6e6e6' : '#f3f3f3'),
            tickColor: (c: any) => (isMult(c.tick?.value ?? 0, 2.5) ? '#666' : 'rgba(0,0,0,0)'),
            tickLength: 6,
          },
          border: { display: false },
          ticks: { font: tickFont(17), color: TICK_TEXT, padding: 5, callback: (v: number) => (isMult(v, 2.5) ? String(v) : '') },
        },
      },
    },
    plugins: [framePlugin, medianPlugin(cNoMutMed, cMutMed)],
  };
}

export default function App() {
  return (
    <div style={{ position: 'fixed', left: 0, top: 0, width: 1273, height: 745, background: '#fff', overflow: 'hidden' }}>
      <ChartCanvas build={buildA} left={0} top={0} width={575} height={340} />
      <ChartCanvas build={buildB} left={570} top={0} width={520} height={345} />
      <ChartCanvas build={buildC} left={0} top={350} width={1090} height={395} />

      <Text x={20} y={24} size={27} bold>A</Text>
      <Text x={597} y={22} size={27} bold>B</Text>
      <Text x={19} y={364} size={27} bold>C</Text>

      <Text x={245} y={44} size={17}>R = 0.7, p = 2.2e-157</Text>
      <Text x={333} y={347} size={24}>TCGA-BA-4076</Text>
      <Text x={55} y={163} size={21} rotate>TCGA-BB-A5HZ</Text>

      <Text x={587} y={162} size={22} rotate>PHBR-I</Text>
      <Text x={756} y={47} size={17}>{bPValues[0]}</Text>
      <Text x={947} y={47} size={17}>{bPValues[1]}</Text>
      <Legend x={1101} y={21} />

      <Text x={38} y={516} size={22} rotate>PHBR-I</Text>
      <Text x={617} y={732} size={23}>Driver mutation frequency</Text>
      <Legend x={1102} y={389} />
    </div>
  );
}
